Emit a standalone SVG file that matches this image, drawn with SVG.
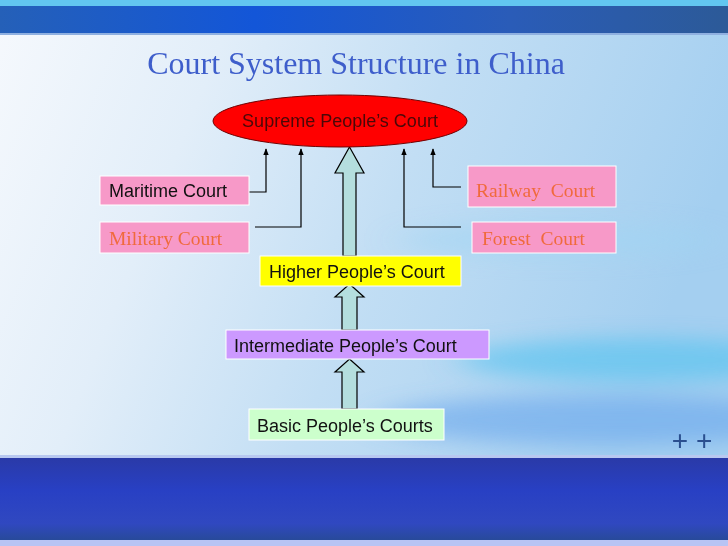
<svg xmlns="http://www.w3.org/2000/svg" width="728" height="546" viewBox="0 0 728 546">
<defs>
<linearGradient id="bg" x1="0" y1="0" x2="1" y2="0.3">
<stop offset="0" stop-color="#f6f9fd"/>
<stop offset="0.3" stop-color="#e2eef9"/>
<stop offset="0.6" stop-color="#c2def4"/>
<stop offset="1" stop-color="#a4cff0"/>
</linearGradient>
<linearGradient id="topband" x1="0" y1="0" x2="1" y2="0">
<stop offset="0" stop-color="#2560b8"/>
<stop offset="0.35" stop-color="#1356d8"/>
<stop offset="0.7" stop-color="#2a5cb8"/>
<stop offset="1" stop-color="#2c5a98"/>
</linearGradient>
<linearGradient id="botband" x1="0" y1="0" x2="0" y2="1">
<stop offset="0" stop-color="#2a3aa8"/>
<stop offset="0.4" stop-color="#2840c4"/>
<stop offset="0.8" stop-color="#3048c0"/>
<stop offset="1" stop-color="#284a9a"/>
</linearGradient>
<filter id="blur" x="-30%" y="-100%" width="160%" height="300%">
<feGaussianBlur stdDeviation="18 10"/>
</filter>
<marker id="ah" viewBox="0 0 10 10" refX="9" refY="5" markerWidth="7" markerHeight="7" orient="auto" markerUnits="userSpaceOnUse">
<path d="M0,1 L10,5 L0,9 z" fill="#000"/>
</marker>
</defs>
<style>
.box{stroke:#ffffff;stroke-width:1}
.pink{fill:#f799c8}
.sans{font-family:"Liberation Sans",Arial,sans-serif;font-size:18px;fill:#111}
.serif{font-family:"Liberation Serif","Times New Roman",serif;font-size:19.5px;fill:#f06a3c;white-space:pre}
.conn{fill:none;stroke:#000;stroke-width:1.2}
.big{fill:#b4dede;stroke:#000;stroke-width:1.2}
</style>
<!-- background -->
<rect x="0" y="0" width="728" height="546" fill="url(#bg)"/>
<g filter="url(#blur)">
<ellipse cx="640" cy="360" rx="180" ry="22" fill="#5ec4f0" opacity="0.7"/>
<ellipse cx="600" cy="420" rx="220" ry="25" fill="#6aa6ec" opacity="0.6"/>
<ellipse cx="560" cy="240" rx="160" ry="18" fill="#9fd6f4" opacity="0.5"/>
</g>
<rect x="0" y="0" width="728" height="6" fill="#62c6f0"/>
<rect x="0" y="6" width="728" height="27" fill="url(#topband)"/>
<rect x="0" y="33" width="728" height="2" fill="#8fb0e0"/>
<rect x="0" y="455" width="728" height="3" fill="#b8c8f0"/>
<rect x="0" y="458" width="728" height="82" fill="url(#botband)"/>
<rect x="0" y="540" width="728" height="6" fill="#b8c4f4"/>
<text x="356" y="74" text-anchor="middle" font-family="'Liberation Serif','Times New Roman',serif" font-size="32" fill="#3e5ecb">Court System Structure in China</text>
<text x="692" y="450" text-anchor="middle" font-family="'Liberation Sans',Arial,sans-serif" font-size="28" fill="#2a4f8f">+ +</text>

<g id="connectors">
<polyline class="conn" points="249,192 266,192 266,149" marker-end="url(#ah)"/>
<polyline class="conn" points="255,227 301,227 301,149" marker-end="url(#ah)"/>
<polyline class="conn" points="461,227 404,227 404,149" marker-end="url(#ah)"/>
<polyline class="conn" points="461,187 433,187 433,149" marker-end="url(#ah)"/>
<path class="big" d="M349.5,147 L364,173 L356,173 L356,256 L343,256 L343,173 L335,173 Z"/>
<path class="big" d="M349.5,284 L364,297 L357,297 L357,330 L342,330 L342,297 L335,297 Z"/>
<path class="big" d="M349.5,359 L364,372 L357,372 L357,409 L342,409 L342,372 L335,372 Z"/>
</g>

<g id="supreme">
<ellipse cx="340" cy="121" rx="127" ry="26" fill="#ff0000" stroke="#700000" stroke-width="1"/>
<text x="340" y="127" text-anchor="middle" class="sans" style="fill:#4a0808">Supreme People’s Court</text>
</g>
<g id="maritime">
<rect class="box pink" x="100" y="176" width="149" height="29"/>
<text class="sans" x="109" y="197">Maritime Court</text>
</g>
<g id="military">
<rect class="box pink" x="100" y="222" width="149" height="31"/>
<text class="serif" x="109" y="245">Military Court</text>
</g>
<g id="railway">
<rect class="box pink" x="468" y="166" width="148" height="41"/>
<text class="serif" x="476" y="197" xml:space="preserve">Railway  Court</text>
</g>
<g id="forest">
<rect class="box pink" x="472" y="222" width="144" height="31"/>
<text class="serif" x="482" y="245" xml:space="preserve">Forest  Court</text>
</g>
<g id="higher">
<rect class="box" x="260" y="256" width="201" height="30" fill="#ffff00"/>
<text class="sans" x="269" y="278">Higher People’s Court</text>
</g>
<g id="intermediate">
<rect class="box" x="226" y="330" width="263" height="29" fill="#cc99ff"/>
<text class="sans" x="234" y="352">Intermediate People’s Court</text>
</g>
<g id="basic">
<rect class="box" x="249" y="409" width="195" height="31" fill="#ccffcc"/>
<text class="sans" x="257" y="432">Basic People’s Courts</text>
</g>
</svg>
